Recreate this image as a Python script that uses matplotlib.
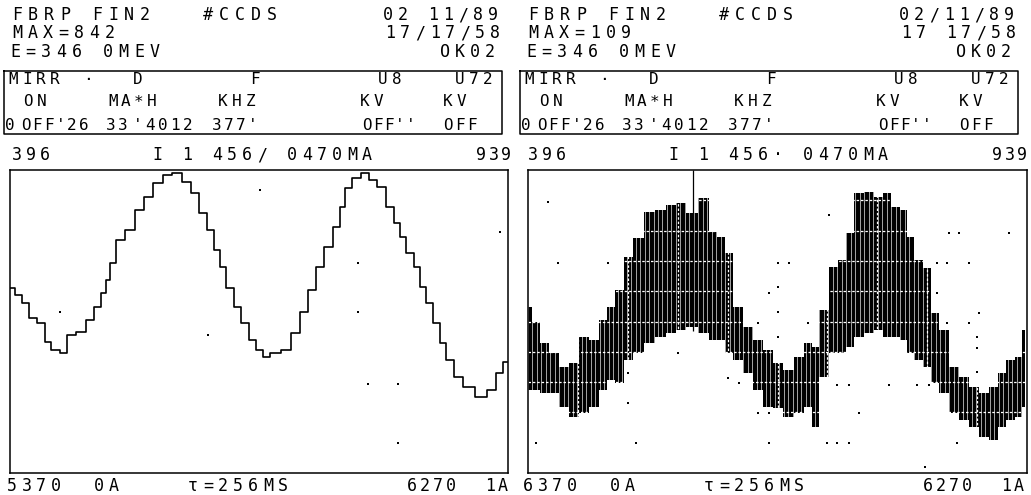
import matplotlib
matplotlib.use("Agg")
import matplotlib.pyplot as plt

# ---- data (t in ms over the 256 ms sweep, v in % of screen) ----
left_t = [0.0, 5.1, 7.7, 11.8, 16.4, 19.5, 23.1, 28.3, 30.8, 37.0, 41.1, 45.2, 48.8, 50.4,
          52.9, 56.5, 61.7, 66.8, 70.9, 76.1, 81.2, 85.8, 91.0, 95.1, 99.2, 103.8, 106.4,
          109.0, 113.1, 117.2, 120.8, 124.9, 128.5, 131.1, 136.2, 142.4, 146.5, 151.6,
          155.2, 159.4, 163.5, 168.1, 171.2, 173.7, 178.4, 182.5, 186.6, 191.2, 195.3,
          199.4, 202.0, 205.6, 209.7, 212.3, 214.9, 219.5, 222.1, 226.2, 230.3, 235.4,
          242.6, 247.7, 251.7, 255.4]
left_v = [61.1, 58.7, 56.1, 51.2, 49.5, 43.2, 40.6, 39.6, 45.5, 46.5, 50.5, 54.8, 59.4, 63.7,
          69.3, 76.9, 80.2, 86.8, 91.1, 95.7, 98.3, 99.0, 96.0, 92.4, 85.8, 80.2, 73.6,
          68.0, 61.1, 54.8, 49.5, 43.9, 40.6, 38.3, 39.6, 40.6, 46.2, 53.1,
          60.4, 68.0, 74.6, 81.2, 87.8, 94.1, 97.4, 99.0, 96.7, 94.4, 87.8,
          82.5, 77.9, 72.6, 68.0, 61.4, 56.1, 49.5, 42.9, 37.3, 31.7, 28.4,
          25.1, 27.4, 33.0, 36.6]
left_dot_t = [25.7, 101.8, 128.5, 178.9, 178.9, 184.0, 199.4, 199.4, 251.9]
left_dot_v = [53.1, 45.5, 93.4, 69.3, 53.1, 29.4, 29.4, 9.9, 79.5]

right_t = [0.0, 4.1, 8.2, 13.4, 18.5, 23.6, 28.8, 33.9, 38.6, 42.7, 46.8, 51.4, 56.5, 62.2,
           68.4, 73.5, 78.7, 83.8, 90.5, 95.1, 99.2, 102.8, 108.0, 113.1, 118.2, 123.4,
           127.5, 133.7, 138.8, 143.9, 147.0, 151.7, 156.8, 160.9, 165.0, 169.7, 174.8,
           179.9, 184.1, 188.2, 193.3, 195.9, 200.5, 204.6, 208.7, 213.4, 218.5, 223.6,
           228.8, 233.9, 239.1, 243.2, 247.3, 251.9, 255.0]
right_hi = [54.8, 49.8, 42.9, 39.6, 35.0, 36.3, 44.9, 43.9, 50.5, 54.8, 60.4, 71.3, 77.6, 86.1,
            86.8, 88.4, 89.1, 85.8, 90.8, 79.5, 77.9, 72.6, 54.8, 48.2, 43.9, 40.6,
            36.3, 34.0, 38.3, 42.9, 41.6, 53.8, 68.0, 70.3, 79.2, 92.4, 92.7,
            91.1, 92.4, 87.8, 86.8, 77.9, 70.3, 67.7, 52.8, 47.2, 35.0, 31.7,
            28.4, 26.4, 28.4, 33.0, 37.3, 38.3, 47.2]
right_lo = [27.4, 27.4, 26.4, 26.4, 21.8, 18.5, 19.8, 21.8, 27.4, 30.7, 29.7, 37.3, 39.6, 42.9,
            44.9, 46.2, 47.2, 48.2, 46.2, 43.9, 43.9, 39.6, 37.3, 33.0, 27.4, 21.8,
            21.5, 18.5, 19.8, 21.8, 15.2, 31.7, 39.6, 39.6, 41.6, 44.9, 46.2,
            47.2, 44.9, 44.9, 43.9, 39.6, 37.3, 35.0, 29.7, 26.4, 19.8, 17.5,
            15.2, 11.9, 10.9, 15.2, 17.5, 18.5, 21.8]
right_dot_t = [10.3, 15.4, 41.1, 123.4, 118.2, 77.1, 51.4, 51.4, 4.1, 55.5, 123.4, 118.2,
               123.4, 102.8, 108.0, 154.2, 128.5, 133.7, 128.5, 128.5, 128.5, 143.9, 158.3,
               164.5, 185.0, 169.6, 153.2, 158.3, 164.5, 199.4, 205.6, 203.5, 215.9, 221.0,
               246.7, 209.7, 214.9, 226.2, 209.7, 214.9, 226.2, 231.3, 230.3, 230.3, 230.3,
               220.0]
right_dot_v = [89.4, 69.3, 69.3, 59.4, 49.5, 39.6, 33.0, 23.1, 9.9, 9.9, 9.9, 19.8,
               19.8, 31.4, 29.7, 85.1, 69.3, 69.3, 61.4, 53.1, 44.9, 49.5, 29.0,
               29.0, 29.0, 19.8, 9.9, 9.9, 9.9, 29.0, 29.0, 2.0, 79.2, 79.2,
               79.2, 69.3, 69.3, 69.3, 59.4, 49.5, 49.5, 52.8, 44.9, 41.3, 33.3,
               9.9]
cursor_t = 84.8

# header texts per panel
titles = ["FBRP FIN2", "FBRP FIN2"]
maxes = ["MAX=842", "MAX=109"]
dates = ["02 11/89", "02/11/89"]
times = ["17/17/58", "17 17/58"]
bottom_left = ["5370  0A", "6370  0A"]
current = ["I 1 456/ 0470MA", "I 1 456\u00b7 0470MA"]

FONT = "DejaVu Sans Mono"
W, H = 1031, 495
fig = plt.figure(figsize=(W / 100, H / 100), dpi=100)
bg = fig.add_axes([0, 0, 1, 1])
bg.set_xlim(0, W)
bg.set_ylim(H, 0)
bg.axis("off")


def say(x, y, s, pitch=15.5, size=12):
    # dot-matrix printer look: every character on a fixed pitch
    for i, ch in enumerate(s):
        if ch != " ":
            bg.text(x + i * pitch, y, ch, fontsize=size, family=FONT, ha="left",
                    va="center", color="black")


for k in range(2):
    o = 516 * k
    say(12 + o, 15, titles[k], pitch=16)
    say(203 + o, 15, "#CCDS", pitch=16)
    say(383 + o, 15, dates[k], pitch=15)
    say(385 + o, 33, times[k], pitch=15)
    say(12 + o, 33, maxes[k], pitch=15.5)
    say(10 + o, 52, "E=346 0MEV", pitch=15.5)
    say(440 + o, 52, "OK02", pitch=15)

    # MIRR table box
    bg.plot([4 + o, 502 + o, 502 + o, 4 + o, 4 + o], [71, 71, 134, 134, 71],
            color="black", lw=1.1)
    say(8 + o, 80, "MIRR", pitch=14, size=11.5)
    say(83 + o, 80, "\u00b7", size=11.5)
    say(133 + o, 80, "D", size=11.5)
    say(250 + o, 80, "F", size=11.5)
    say(378 + o, 80, "U8", pitch=14, size=11.5)
    say(455 + o, 80, "U72", pitch=14, size=11.5)
    say(23 + o, 102, "ON", pitch=14, size=11.5)
    say(108 + o, 102, "MA*H", pitch=13, size=11.5)
    say(218 + o, 102, "KHZ", pitch=14, size=11.5)
    say(360 + o, 102, "KV", pitch=14, size=11.5)
    say(443 + o, 102, "KV", pitch=14, size=11.5)
    say(5 + o, 125, "0", size=11.5)
    say(21 + o, 125, "OFF'26", pitch=11.5, size=11.5)
    say(106 + o, 125, "33", pitch=12, size=11.5)
    say(133 + o, 125, "'4012", pitch=12.5, size=11.5)
    say(212 + o, 125, "377'", pitch=12, size=11.5)
    say(362 + o, 125, "OFF''", pitch=11, size=11.5)
    say(443 + o, 125, "OFF", pitch=12, size=11.5)

    say(12 + o, 155, "396", pitch=14)
    say(152 + o, 155, current[k], pitch=15)
    say(476 + o, 155, "939", pitch=12.5)

    say(7 + o, 486, bottom_left[k], pitch=14.5)
    say(188 + o, 486, "\u03c4=256MS", pitch=15)
    say(407 + o, 486, "6270  1A", pitch=13)


def scope_axes(x0, x1):
    ax = fig.add_axes([x0 / W, (H - 473) / H, (x1 - x0) / W, (473 - 170) / H])
    ax.set_xlim(0, 256)
    ax.set_ylim(0, 100)
    ax.set_xticks([])
    ax.set_yticks([])
    for sp in ax.spines.values():
        sp.set_linewidth(1.1)
        sp.set_color("black")
    return ax


# left screen: clean trace
axl = scope_axes(10, 508)
axl.plot(left_t, left_v, drawstyle="steps-mid", color="black", lw=1.2)
axl.scatter(left_dot_t, left_dot_v, s=3, c="black", marker="s", lw=0)

# right screen: noisy band, graticule shows through in white
axr = scope_axes(528, 1027)
band = axr.fill_between(right_t, right_lo, right_hi, step="mid", color="black", lw=0)
clip = (band.get_paths()[0], band.get_transform())
for gv in range(10, 100, 10):
    ln = axr.axhline(gv, color="white", lw=0.9, ls=(0, (2, 1.5)))
    ln.set_clip_path(*clip)
for i in range(1, 10):
    ln = axr.axvline(25.6 * i, color="white", lw=0.9, ls=(0, (2, 1.5)))
    ln.set_clip_path(*clip)
# fine vertical striation of the noise band
stripes = [i * 2.3 for i in range(112)]
streaks = axr.vlines(stripes, 0, 100, color="white", lw=0.45)
streaks.set_clip_path(*clip)
axr.vlines(cursor_t, 47, 100, color="black", lw=0.9)
axr.scatter(right_dot_t, right_dot_v, s=3, c="black", marker="s", lw=0)

fig.savefig("out.png", dpi=100, facecolor="white")
